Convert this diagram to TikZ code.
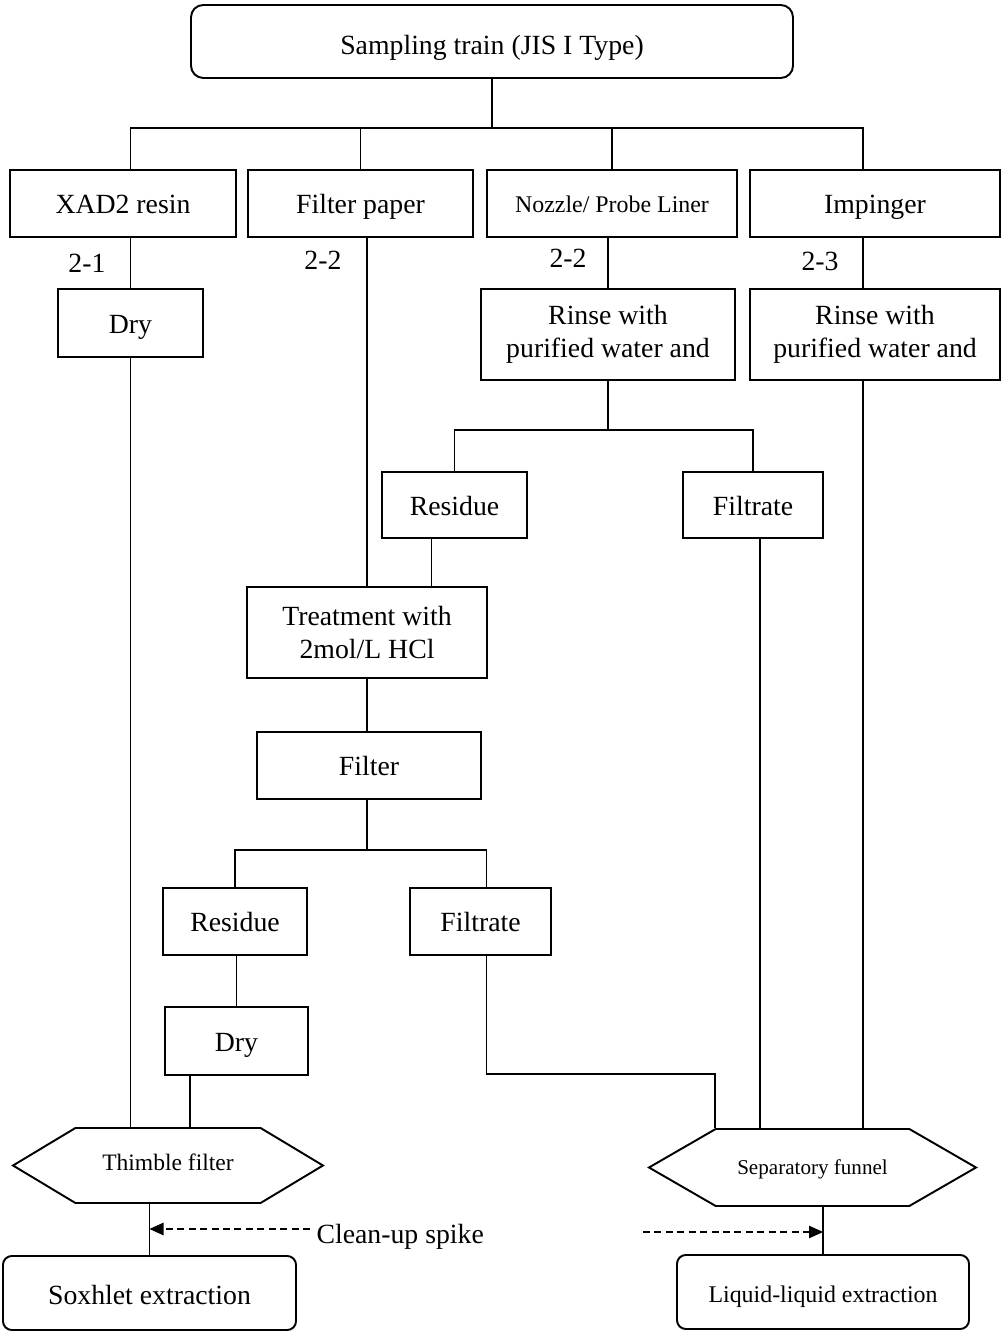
\documentclass[tikz,border=0pt]{standalone}
\usepackage{fontspec}
\setmainfont{Liberation Serif}
\usetikzlibrary{arrows.meta,shapes.symbols}
\begin{document}
\begin{tikzpicture}[
	line width=0.6pt,
	box/.style={draw, line width=1.1pt, align=center, inner sep=0pt, font=\fontsize{15.8}{18.6}\selectfont},
	single/.style={text height=#1, text depth=0pt},
	single/.default=11.6pt,
	endbox/.style={box, single=12.7pt, rounded corners=5pt},
	vessel/.style={draw, line width=1.1pt, shape=signal, signal to=west and east, inner sep=0pt},
	tag/.style={font=\fontsize{15.8}{18.6}\selectfont, inner sep=0pt},
	spike/.style={dash pattern=on 4pt off 2.5pt, -{Triangle[length=2.8mm, width=2.5mm]}}
]
	\useasboundingbox (0 cm, 0 cm) rectangle (20.04 cm, 26.62 cm);
	\node[endbox, single=14.5pt, rounded corners=7pt, minimum width=12.04 cm, minimum height=1.46 cm] (Train) at (9.84 cm, 25.79 cm) {Sampling train (JIS I Type)};
	\node[box, single, minimum width=4.52 cm, minimum height=1.34 cm] (XAD) at (2.46 cm, 22.55 cm) {XAD2 resin};
	\node[box, single, minimum width=4.5 cm, minimum height=1.34 cm] (Paper) at (7.21 cm, 22.55 cm) {Filter paper};
	\node[box, single=10.8pt, minimum width=5 cm, minimum height=1.34 cm, font=\fontsize{13.6}{16}\selectfont] (Nozzle) at (12.24 cm, 22.55 cm) {Nozzle/ Probe Liner};
	\node[box, single, minimum width=5 cm, minimum height=1.34 cm] (Impinger) at (17.5 cm, 22.55 cm) {Impinger};
	\node[tag] (Tag 1) at (1.74 cm, 21.36 cm) {2-1};
	\node[tag] (Tag 2) at (6.46 cm, 21.42 cm) {2-2};
	\node[tag] (Tag 3) at (11.36 cm, 21.46 cm) {2-2};
	\node[tag] (Tag 4) at (16.4 cm, 21.4 cm) {2-3};
	\node[box, single, minimum width=2.9 cm, minimum height=1.36 cm] (Dry 1) at (2.61 cm, 20.16 cm) {Dry};
	\node[box, minimum width=5.08 cm, minimum height=1.82 cm] (Rinse 1) at (12.16 cm, 19.93 cm) {Rinse with\\purified water and};
	\node[box, minimum width=5 cm, minimum height=1.82 cm] (Rinse 2) at (17.5 cm, 19.93 cm) {Rinse with\\purified water and};
	\node[box, single, minimum width=2.9 cm, minimum height=1.32 cm] (Residue 1) at (9.09 cm, 16.52 cm) {Residue};
	\node[box, single, minimum width=2.8 cm, minimum height=1.32 cm] (Filtrate 1) at (15.06 cm, 16.52 cm) {Filtrate};
	\node[box, minimum width=4.8 cm, minimum height=1.82 cm] (Treatment) at (7.34 cm, 13.97 cm) {Treatment with\\2mol/L HCl};
	\node[box, single, minimum width=4.48 cm, minimum height=1.34 cm] (Filter) at (7.38 cm, 11.31 cm) {Filter};
	\node[box, single, minimum width=2.88 cm, minimum height=1.34 cm] (Residue 2) at (4.7 cm, 8.19 cm) {Residue};
	\node[box, single, minimum width=2.82 cm, minimum height=1.34 cm] (Filtrate 2) at (9.61 cm, 8.19 cm) {Filtrate};
	\node[box, single, minimum width=2.86 cm, minimum height=1.36 cm] (Dry 2) at (4.73 cm, 5.8 cm) {Dry};
	\node[vessel, single=6.1pt, minimum width=6.2 cm, minimum height=1.5 cm, signal pointer angle=62, font=\fontsize{13.4}{16}\selectfont] (Thimble) at (3.36 cm, 3.31 cm) {Thimble filter};
	\node[vessel, single=8.2pt, minimum width=6.54 cm, minimum height=1.54 cm, signal pointer angle=60, font=\fontsize{12}{14}\selectfont] (Funnel) at (16.25 cm, 3.27 cm) {Separatory funnel};
	\node[endbox, minimum width=5.86 cm, minimum height=1.48 cm] (Soxhlet) at (2.99 cm, 0.76 cm) {Soxhlet extraction};
	\node[endbox, single=11.8pt, minimum width=5.84 cm, minimum height=1.48 cm, font=\fontsize{13.6}{16}\selectfont] (Liquid) at (16.46 cm, 0.78 cm) {Liquid-liquid extraction};
	\node[tag, anchor=west] (Spike) at (6.32 cm, 1.88 cm) {Clean-up spike};
	\coordinate (Split 1) at (9.84 cm, 24.06 cm);
	\draw (Train.south) -- (Split 1);
	\draw (XAD.north -| Dry 1.north) |- (Split 1) -| ([xshift=-2.4 mm]Impinger.north);
	\draw (Paper.north) -- (Paper.north |- Split 1);
	\draw (Nozzle.north) -- (Nozzle.north |- Split 1);
	\draw (Dry 1.north) -- (Dry 1.north |- XAD.south);
	\draw (Rinse 1.north) -- (Rinse 1.north |- Nozzle.south);
	\draw ([xshift=-2.4 mm]Rinse 2.north) -- ([xshift=-2.4 mm]Impinger.south);
	\coordinate (Split 2) at (12.16 cm, 18.02 cm);
	\draw (Rinse 1.south) -- (Split 2);
	\draw (Residue 1.north) |- (Split 2) -| (Filtrate 1.north);
	\draw (Treatment.north) -- (Treatment.north |- Paper.south);
	\draw ([xshift=-4.6 mm]Residue 1.south) -- ([xshift=-4.6 mm]Residue 1.south |- Treatment.north);
	\draw ([xshift=1.4 mm]Filtrate 1.south) -- ([xshift=1.4 mm]Filtrate 1.south |- Funnel.north);
	\draw ([xshift=-2.4 mm]Rinse 2.south) -- ([xshift=-2.4 mm]Rinse 2.south |- Funnel.north);
	\draw (Treatment.south) -- (Treatment.south |- Filter.north);
	\coordinate (Split 3) at (7.34 cm, 9.62 cm);
	\draw (Filter.south -| Split 3) -- (Split 3);
	\draw (Residue 2.north) |- (Split 3) -| ([xshift=1.2 mm]Filtrate 2.north);
	\draw (Dry 2.north) -- (Dry 2.north |- Residue 2.south);
	\draw (Dry 1.south) -- (Dry 1.south |- Thimble.north);
	\draw ([xshift=-9.3 mm]Dry 2.south) -- ([xshift=-9.3 mm]Dry 2.south |- Thimble.north);
	\coordinate (Bend) at (14.3 cm, 5.14 cm);
	\draw ([xshift=1.2 mm]Filtrate 2.south) |- (Bend) -- (Bend |- Funnel.north);
	\draw (Soxhlet.north) -- (Soxhlet.north |- Thimble.south);
	\draw (Liquid.north) -- (Liquid.north |- Funnel.south);
	\draw[spike] ([xshift=-1.2 mm, yshift=1.6 mm]Spike.west) -- ([yshift=1.6 mm]Spike.west -| Soxhlet.north);
	\coordinate (Spike End) at (12.86 cm, 1.98 cm);
	\draw[spike] (Spike End) -- (Spike End -| Liquid.north);
\end{tikzpicture}
\end{document}
